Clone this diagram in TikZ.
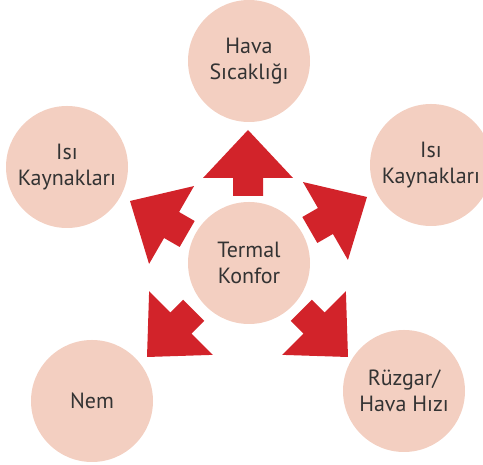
\documentclass[tikz,border=0pt]{standalone}
\usepackage{fontspec}
\setmainfont{PT Sans}
\definecolor{circfill}{HTML}{F3CFC1}
\definecolor{arrred}{HTML}{D2232A}
\definecolor{txt}{HTML}{333333}
\begin{document}
\begin{tikzpicture}[x=1pt,y=1pt,
  bubble/.style={circle,fill=circfill,minimum size=122pt,inner sep=0pt,text=txt,
    font=\fontsize{22}{26}\selectfont,align=center},
  blockarrow/.style={fill=arrred}]
\clip (0,0) rectangle (483,465);
\useasboundingbox (0,0) rectangle (483,465);
\node[bubble] (top) at (249,404) {Hava\\Sıcaklığı};
\node[bubble] (left) at (67,298) {Isı\\Kaynakları};
\node[bubble] (right) at (431,300) {Isı\\Kaynakları};
\node[bubble] (center) at (249,202) {Termal\\Konfor};
\node[bubble] (nem) at (92,64) {Nem};
\node[bubble] (ruz) at (404,74) {Rüzgar/\\Hava Hızı};
\foreach \tx/\ty/\ang in {248/335/90, 130/264/150, 367/268/30, 147/108/225, 348/108/315}{
  \begin{scope}[shift={(\tx,\ty)},rotate=\ang]
    \fill[blockarrow] (0,0) -- (-48,45) -- (-48,15) -- (-66,15) -- (-66,-15) -- (-48,-15) -- (-48,-45) -- cycle;
  \end{scope}
}
\end{tikzpicture}
\end{document}
